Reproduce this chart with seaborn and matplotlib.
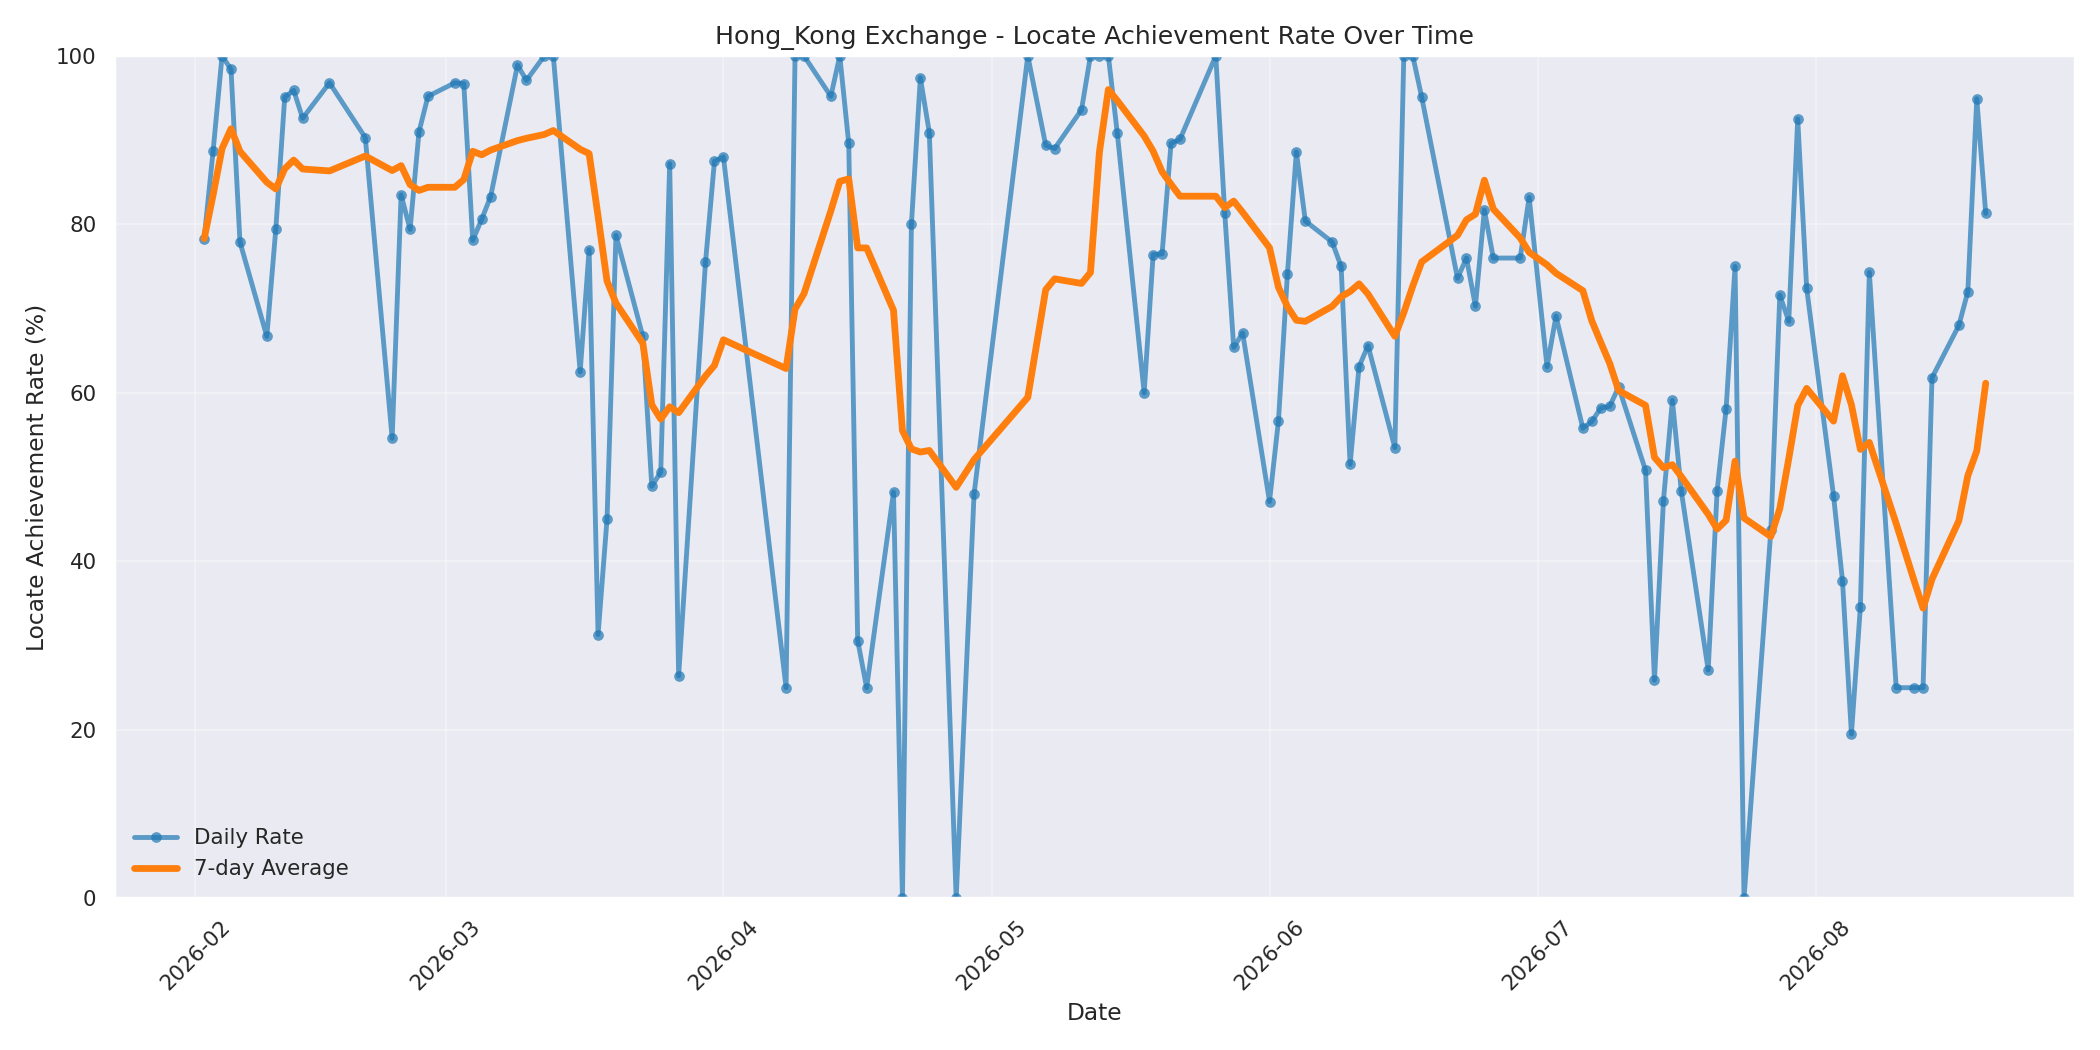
import numpy as np
import pandas as pd
import seaborn as sns
import matplotlib.pyplot as plt
import matplotlib.dates as mdates

dates = [
    "2026-02-02", "2026-02-03", "2026-02-04", "2026-02-05", "2026-02-06",
    "2026-02-09", "2026-02-10", "2026-02-11", "2026-02-12", "2026-02-13",
    "2026-02-16", "2026-02-20", "2026-02-23", "2026-02-24", "2026-02-25",
    "2026-02-26", "2026-02-27", "2026-03-02", "2026-03-03", "2026-03-04",
    "2026-03-05", "2026-03-06", "2026-03-09", "2026-03-10", "2026-03-12",
    "2026-03-13", "2026-03-16", "2026-03-17", "2026-03-18", "2026-03-19",
    "2026-03-20", "2026-03-23", "2026-03-24", "2026-03-25", "2026-03-26",
    "2026-03-27", "2026-03-30", "2026-03-31", "2026-04-01", "2026-04-08",
    "2026-04-09", "2026-04-10", "2026-04-13", "2026-04-14", "2026-04-15",
    "2026-04-16", "2026-04-17", "2026-04-20", "2026-04-21", "2026-04-22",
    "2026-04-23", "2026-04-24", "2026-04-27", "2026-04-29", "2026-05-05",
    "2026-05-07", "2026-05-08", "2026-05-11", "2026-05-12", "2026-05-13",
    "2026-05-14", "2026-05-15", "2026-05-18", "2026-05-19", "2026-05-20",
    "2026-05-21", "2026-05-22", "2026-05-26", "2026-05-27", "2026-05-28",
    "2026-05-29", "2026-06-01", "2026-06-02", "2026-06-03", "2026-06-04",
    "2026-06-05", "2026-06-08", "2026-06-09", "2026-06-10", "2026-06-11",
    "2026-06-12", "2026-06-15", "2026-06-16", "2026-06-17", "2026-06-18",
    "2026-06-22", "2026-06-23", "2026-06-24", "2026-06-25", "2026-06-26",
    "2026-06-29", "2026-06-30", "2026-07-02", "2026-07-03", "2026-07-06",
    "2026-07-07", "2026-07-08", "2026-07-09", "2026-07-10", "2026-07-13",
    "2026-07-14", "2026-07-15", "2026-07-16", "2026-07-17", "2026-07-20",
    "2026-07-21", "2026-07-22", "2026-07-23", "2026-07-24", "2026-07-27",
    "2026-07-28", "2026-07-29", "2026-07-30", "2026-07-31", "2026-08-03",
    "2026-08-04", "2026-08-05", "2026-08-06", "2026-08-07", "2026-08-10",
    "2026-08-12", "2026-08-13", "2026-08-14", "2026-08-17", "2026-08-18",
    "2026-08-19", "2026-08-20",
]
daily_rate = [
    78.3, 88.7, 100, 98.4, 77.9,
    66.7, 79.4, 95.1, 95.9, 92.6,
    96.8, 90.3, 54.6, 83.5, 79.4,
    91.0, 95.2, 96.8, 96.7, 78.1,
    80.6, 83.3, 98.9, 97.1, 100,
    100, 62.5, 77.0, 31.3, 45.0,
    78.7, 66.7, 48.9, 50.6, 87.2,
    26.4, 75.5, 87.5, 88.0, 25.0,
    100, 100, 95.2, 100, 89.6,
    30.6, 25.0, 48.2, 0, 80.0,
    97.4, 90.9, 0, 48.0, 100,
    89.4, 89.0, 93.6, 100, 100,
    100, 90.8, 60.0, 76.4, 76.5,
    89.6, 90.1, 100, 81.3, 65.4,
    67.1, 47.1, 56.7, 74.1, 88.6,
    80.4, 77.9, 75.0, 51.5, 63.1,
    65.6, 53.5, 100, 100, 95.1,
    73.6, 76.0, 70.3, 81.7, 76.0,
    76.0, 83.2, 63.1, 69.1, 55.8,
    56.6, 58.2, 58.4, 60.7, 50.8,
    25.9, 47.2, 59.1, 48.3, 27.1,
    48.4, 58.1, 75.0, 0, 43.7,
    71.6, 68.5, 92.5, 72.4, 47.8,
    37.7, 19.5, 34.6, 74.3, 25.0,
    25.0, 25.0, 61.8, 68.0, 72.0,
    94.9, 81.3,
]

df = pd.DataFrame({"date": pd.to_datetime(dates), "rate": daily_rate})
df["avg7"] = df["rate"].rolling(7, min_periods=1).mean()

sns.set_theme(style="darkgrid")
fig, ax = plt.subplots(figsize=(15, 7.5), dpi=140)

sns.lineplot(data=df, x="date", y="rate", ax=ax, marker="o", markersize=5.5,
             linewidth=2.5, alpha=0.7, color="#1f77b4", markeredgewidth=0,
             label="Daily Rate")
sns.lineplot(data=df, x="date", y="avg7", ax=ax, linewidth=3.5,
             color="#ff7f0e", label="7-day Average")

ax.set_ylim(0, 100)
ax.grid(True, alpha=0.3)
ax.xaxis.set_major_locator(mdates.MonthLocator())
ax.xaxis.set_major_formatter(mdates.DateFormatter("%Y-%m"))
plt.setp(ax.get_xticklabels(), rotation=45)
ax.set_title("Hong_Kong Exchange - Locate Achievement Rate Over Time", fontsize=13)
ax.set_xlabel("Date")
ax.set_ylabel("Locate Achievement Rate (%)")
ax.legend(loc="lower left", frameon=False)
fig.tight_layout()
fig.savefig("out.png")
